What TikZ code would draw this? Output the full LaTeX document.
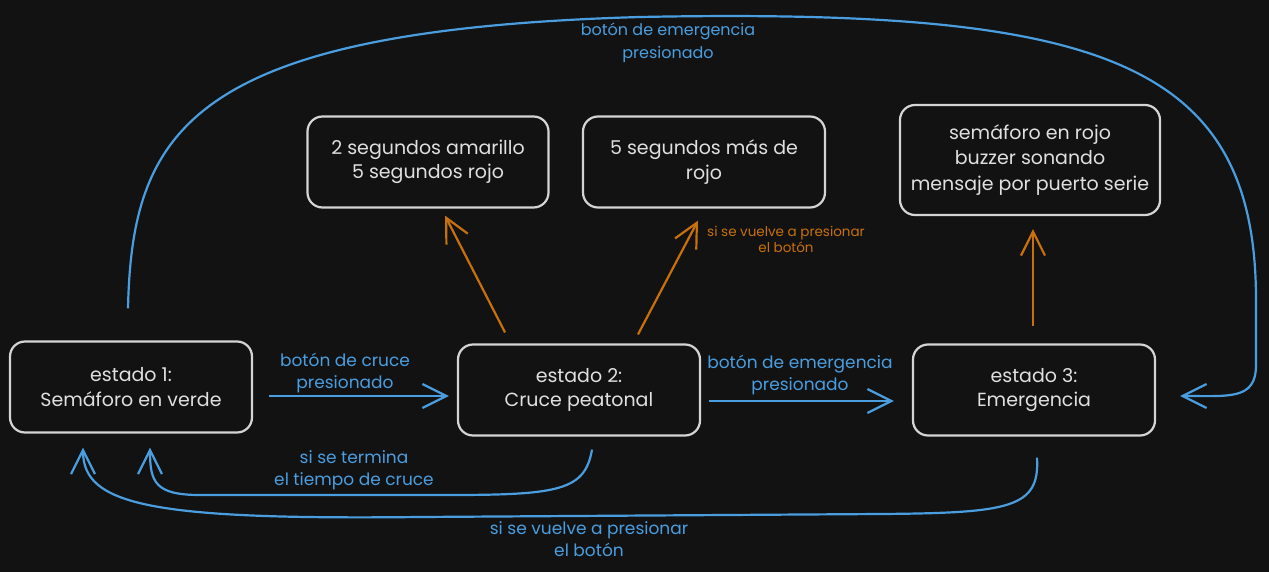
\documentclass[tikz,border=0pt]{standalone}
\usepackage{fontspec}
\setmainfont{Poppins}
\usetikzlibrary{arrows.meta,calc}
\definecolor{bg}{HTML}{121212}
\definecolor{boxline}{HTML}{D4D4D4}
\definecolor{txt}{HTML}{E0E0E0}
\definecolor{eblue}{HTML}{4A9EE0}
\definecolor{eorange}{HTML}{C8700A}
\tikzset{
  statebox/.style={draw=boxline, line width=2.2pt, rounded corners=15pt, text=txt,
    align=center, inner sep=0pt, font=\fontsize{19}{24.5}\selectfont},
  bluearrow/.style={draw=eblue, line width=2.2pt, -{Straight Barb[length=24pt,width=24pt,line width=2.2pt]}},
  orangearrow/.style={draw=eorange, line width=2.2pt, -{Straight Barb[length=24pt,width=24pt,line width=2.2pt]}},
  bluelabel/.style={text=eblue, align=center, font=\fontsize{17}{22}\selectfont},
  orangelabel/.style={text=eorange, align=center, font=\fontsize{13.5}{16}\selectfont},
}
\begin{document}
\begin{tikzpicture}[x=1pt,y=-1pt]
\fill[bg] (0,0) rectangle (1269,572);
\useasboundingbox (0,0) rectangle (1269,572);

% state boxes
\node[statebox, minimum width=242pt, minimum height=91pt] (b1) at (131,387) {estado 1:\\Semáforo en verde};
\node[statebox, minimum width=242pt, minimum height=91pt] (b2) at (579,390) {estado 2:\\Cruce peatonal};
\node[statebox, minimum width=242pt, minimum height=91pt] (b3) at (1034,390) {estado 3:\\Emergencia};
\node[statebox, minimum width=241pt, minimum height=91pt] (t1) at (428,162) {2 segundos amarillo\\5 segundos rojo};
\node[statebox, minimum width=242pt, minimum height=91pt] (t2) at (704,162) {5 segundos más de\\rojo};
\node[statebox, minimum width=260pt, minimum height=110pt, font=\fontsize{19}{25.5}\selectfont] (t3) at (1030,160) {semáforo en rojo\\buzzer sonando\\mensaje por puerto serie};

% horizontal transitions
\draw[bluearrow] ($(b1.east)+(16,9)$) -- ($(b2.west)+(-8,6)$);
\node[bluelabel] (l12) at (345,373) {botón de cruce\\presionado};
\draw[bluearrow] ($(b2.east)+(8,11)$) -- ($(b3.west)+(-18,11)$);
\node[bluelabel] (l23) at (800,375) {botón de emergencia\\presionado};

% orange arrows
\draw[orangearrow] ($(b2.north)+(-74,-11)$) -- ($(t1.south)+(17,7)$);
\draw[orangearrow] ($(b2.north)+(59,-9)$) -- ($(t2.south)+(-6,12)$);
\node[orangelabel] (lo) at (786,239) {si se vuelve a presionar\\el botón};
\draw[orangearrow] ($(b3.north)+(-1,-17)$) -- ($(t3.south)+(3,13)$);

% return from state 2 to state 1
\draw[bluearrow] ($(b2.south)+(13,13)$) .. controls (585,490) and (560,495) .. (450,495)
  -- (200,495) .. controls (155,495) and (150,482) .. ($(b1.south)+(19,14)$);
\node[bluelabel] (l21) at (354,470) {si se termina\\el tiempo de cruce};

% return from state 3 to state 1
\draw[bluearrow] ($(b3.south)+(3,21)$) .. controls (1040,508) and (1010,513) .. (880,514)
  -- (420,517) .. controls (150,520) and (83,505) .. ($(b1.south)+(-48,14)$);
\node[bluelabel] (l31) at (589,539) {si se vuelve a presionar\\el botón};

% big arc from state 1 to state 3
\draw[bluearrow] ($(b1.north)+(-3,-32)$) .. controls (132,130) and (190,30) .. (640,17)
  .. controls (1100,8) and (1256,60) .. (1256,300) -- (1256,365)
  .. controls (1256,400) and (1230,396) .. ($(b3.east)+(24,6)$);
\node[bluelabel, font=\fontsize{16}{23}\selectfont] (l13) at (668,43) {botón de emergencia\\presionado};
\end{tikzpicture}
\end{document}
